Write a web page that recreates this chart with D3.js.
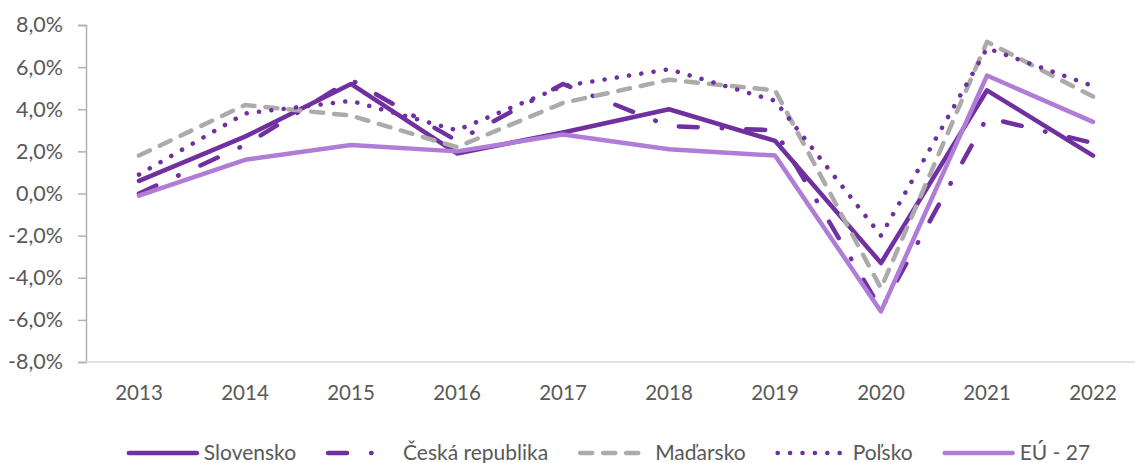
<!DOCTYPE html>
<html lang="sk">
<head>
<meta charset="utf-8">
<title>Rast HDP</title>
<script src="https://cdn.jsdelivr.net/npm/d3@7"></script>
<style>
  body { margin: 0; background: #fff; }
  svg text { font-family: Lato, "Open Sans", sans-serif; fill: #595959; }
</style>
</head>
<body>
<script>
const years = ["2013", "2014", "2015", "2016", "2017", "2018", "2019", "2020", "2021", "2022"];
const yTicks = [-8, -6, -4, -2, 0, 2, 4, 6, 8];

const slovensko = [0.6, 2.7, 5.2, 1.9, 2.9, 4.0, 2.5, -3.3, 4.9, 1.8];
const ceska = [0.0, 2.3, 5.4, 2.5, 5.2, 3.2, 3.0, -5.5, 3.6, 2.4];
const madarsko = [1.8, 4.2, 3.7, 2.2, 4.3, 5.4, 4.9, -4.5, 7.2, 4.6];
const polsko = [0.9, 3.8, 4.4, 3.0, 5.1, 5.9, 4.4, -2.0, 6.9, 5.1];
const eu27 = [-0.1, 1.6, 2.3, 2.0, 2.8, 2.1, 1.8, -5.6, 5.6, 3.4];

const series = [
  { name: "Slovensko", values: slovensko, color: "#7030A0", dash: null, cap: "round", width: 4.5 },
  { name: "Česká republika", values: ceska, color: "#7030A0", dash: "19,24,0.5,24", cap: "round", width: 4.5 },
  { name: "Maďarsko", values: madarsko, color: "#ADAAAA", dash: "12,11", cap: "round", width: 4.5 },
  { name: "Poľsko", values: polsko, color: "#7030A0", dash: "0.1,12.3", cap: "round", width: 4.5 },
  { name: "EÚ - 27", values: eu27, color: "#B07CD8", dash: null, cap: "round", width: 4.5 }
];

const w = 1135, h = 463;
const padLeft = 86, padRight = 1146, padTop = 25, padBottom = 362;

const svg = d3.select("body").append("svg")
  .attr("width", w).attr("height", h);

const x = d3.scalePoint().domain(years).range([padLeft, padRight]).padding(0.5);
const y = d3.scaleLinear().domain([-8, 8]).range([padBottom, padTop]);

const fmt = d => d3.format(".1f")(d).replace(".", ",").replace("−", "-") + "%";

// y axis
const yAxis = svg.append("g")
  .attr("transform", "translate(" + padLeft + ",0)")
  .call(d3.axisLeft(y).tickValues(yTicks).tickFormat(fmt).tickSize(8).tickPadding(15));
yAxis.select(".domain").attr("stroke", "#B0B0B0").attr("stroke-width", 1.5);
yAxis.selectAll(".tick line").attr("stroke", "#B0B0B0").attr("stroke-width", 1.5);
yAxis.selectAll(".tick text").attr("font-size", 21.5).style("font-family", "Lato, sans-serif").attr("fill", "#595959");

// x axis
svg.append("line")
  .attr("x1", padLeft).attr("x2", padRight)
  .attr("y1", y(-8)).attr("y2", y(-8))
  .attr("stroke", "#D9D9D9").attr("stroke-width", 1.5);

svg.append("g").selectAll("text")
  .data(years).enter().append("text")
  .attr("x", d => x(d))
  .attr("y", 393)
  .attr("dy", "0.35em")
  .attr("text-anchor", "middle")
  .attr("font-size", 20.5)
  .text(d => d);

const line = d3.line()
  .x((d, i) => x(years[i]))
  .y(d => y(d));

svg.append("g").selectAll("path")
  .data(series).enter().append("path")
  .attr("d", d => line(d.values))
  .attr("fill", "none")
  .attr("stroke", d => d.color)
  .attr("stroke-width", d => d.width)
  .attr("stroke-dasharray", d => d.dash)
  .attr("stroke-linecap", d => d.cap)
  .attr("stroke-linejoin", "round");

// legend
const legendY = 453;
const symW = 72, symGap = 5, itemGap = 30;
const legend = svg.append("g");
let cx = 0;
const items = [];
series.forEach(s => {
  const g = legend.append("g");
  const dash = s.name === "Česká republika" ? "19,24,0.5,100" : s.dash;
  g.append("line")
    .attr("x1", 2).attr("x2", symW - 2)
    .attr("y1", legendY).attr("y2", legendY)
    .attr("stroke", s.color)
    .attr("stroke-width", s.width)
    .attr("stroke-dasharray", dash)
    .attr("stroke-linecap", s.cap);
  const t = g.append("text")
    .attr("x", symW + symGap)
    .attr("y", legendY)
    .attr("dy", "0.35em")
    .attr("font-size", 21)
    .text(s.name);
  const tw = t.node().getComputedTextLength();
  items.push({ g: g, width: symW + symGap + tw });
});
const total = d3.sum(items, d => d.width) + itemGap * (items.length - 1);
cx = (127 + 1090) / 2 - total / 2;
items.forEach(it => {
  it.g.attr("transform", "translate(" + cx + ",0)");
  cx += it.width + itemGap;
});
</script>
</body>
</html>
